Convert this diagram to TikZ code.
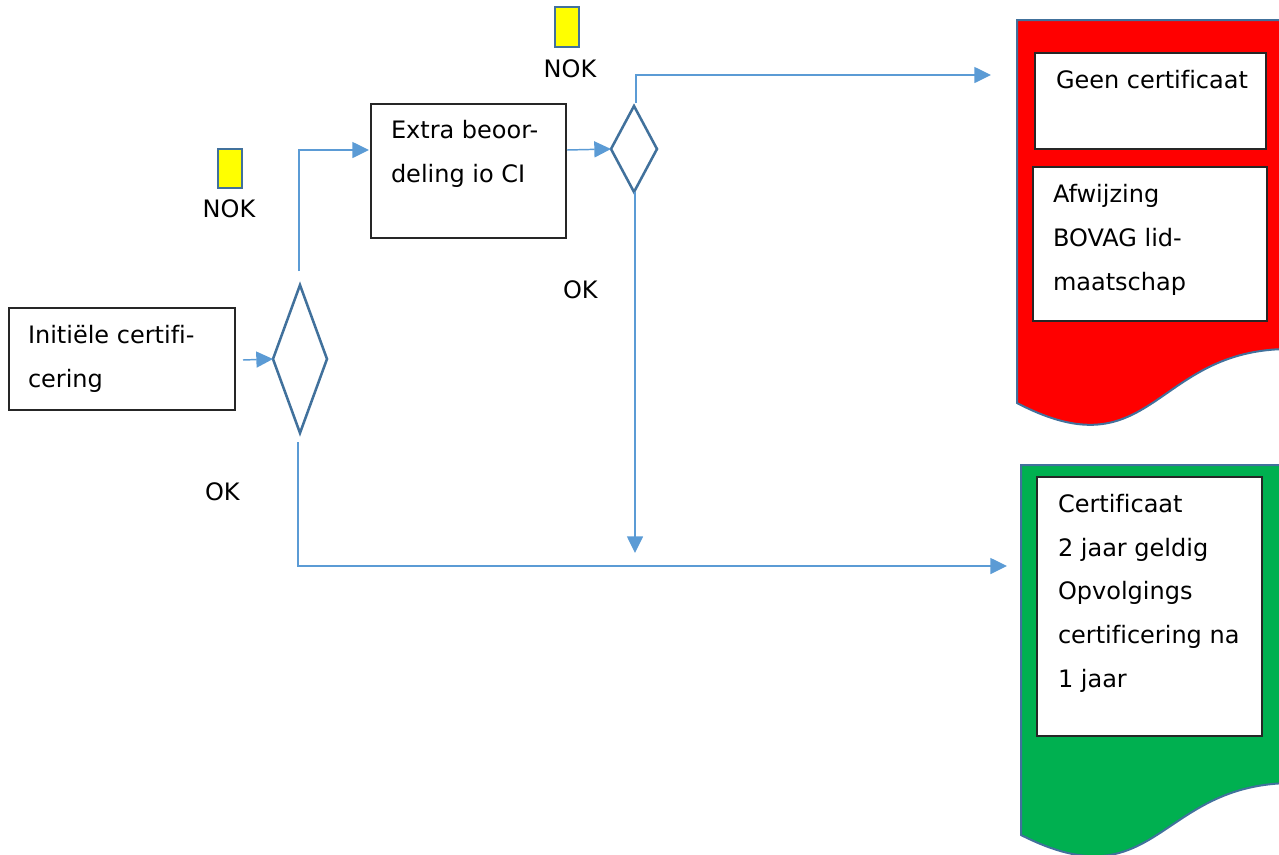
\documentclass[tikz,border=0pt]{standalone}
\usepackage{fontspec}
\setmainfont[Ligatures={NoCommon}]{DejaVu Sans}
\usetikzlibrary{arrows.meta,shapes.geometric,calc}
\definecolor{connc}{HTML}{5B9BD5}
\definecolor{shapeb}{HTML}{41719C}
\definecolor{docred}{HTML}{FF0000}
\definecolor{docgreen}{HTML}{00B050}
\definecolor{flagy}{HTML}{FFFF00}
\begin{document}
\begin{tikzpicture}[x=0.75pt,y=-0.75pt,
  box/.style={draw=black!85, line width=1pt, fill=white, rectangle, inner sep=0pt, outer sep=0pt},
  dec/.style={draw=shapeb, line width=1.9pt, diamond, inner sep=0pt, outer sep=0pt, fill=white},
  flag/.style={draw=shapeb, line width=1.5pt, fill=flagy, rectangle, inner sep=0pt, outer sep=0pt},
  conn/.style={draw=connc, line width=1.1pt},
  arr/.style={conn, -{Triangle[length=12.5pt,width=12pt]}},
  txt/.style={inner sep=0pt, outer sep=0pt, font=\fontsize{18}{33}\selectfont},
  doc/.style={draw=shapeb, line width=1.5pt}]
\useasboundingbox (0,0) rectangle (1279,854);
\clip (0,0) rectangle (1279,854);

% documents
\path[doc, fill=docred] (1017,20) -- (1289,20) -- (1289,349)
  .. controls (1153,349) and (1153,474) .. (1017,403) -- cycle;
\path[doc, fill=docgreen] (1021,465) -- (1293,465) -- (1293,783)
  .. controls (1157,783) and (1157,904) .. (1021,835) -- cycle;

% boxes
\node[box, minimum width=169.5pt, minimum height=76.5pt] (init) at (122,359) {};
\node[box, minimum width=146.25pt, minimum height=100.5pt] (extra) at (468.5,171) {};
\node[box, minimum width=173.25pt, minimum height=72pt] (geen) at (1150.5,101) {};
\node[box, minimum width=175.5pt, minimum height=115.5pt] (afw) at (1150,244) {};
\node[box, minimum width=168.75pt, minimum height=194.25pt] (cert) at (1149.5,606.5) {};

% flags
\node[flag, minimum width=18pt, minimum height=29.25pt] (flag1) at (230,168.5) {};
\node[flag, minimum width=18pt, minimum height=30pt] (flag2) at (567,27) {};

% decisions
\node[dec, minimum width=40.5pt, minimum height=111pt] (d1) at (300,359) {};
\node[dec, minimum width=34.5pt, minimum height=64.5pt] (d2) at (634,149) {};

% texts
\node[txt, anchor=base west] (i1) at (28,343) {Initiële certifi-};
\node[txt, anchor=base west] (i2) at (28,387) {cering};
\node[txt, anchor=base west] (e1) at (391,138) {Extra beoor-};
\node[txt, anchor=base west] (e2) at (391,182) {deling io CI};
\node[txt, anchor=base] (nok1) at (229,217) {NOK};
\node[txt, anchor=base] (nok2) at (570,77) {NOK};
\node[txt, anchor=base west] (ok1) at (205,500) {OK};
\node[txt, anchor=base west] (ok2) at (563,298) {OK};
\node[txt, anchor=base west] (g1) at (1056,88) {Geen certificaat};
\node[txt, anchor=base west] (a1) at (1053,202) {Afwijzing};
\node[txt, anchor=base west] (a2) at (1053,246) {BOVAG lid-};
\node[txt, anchor=base west] (a3) at (1053,290) {maatschap};
\node[txt, anchor=base west] (c1) at (1058,512) {Certificaat};
\node[txt, anchor=base west] (c2) at (1058,556) {2 jaar geldig};
\node[txt, anchor=base west] (c3) at (1058,599) {Opvolgings};
\node[txt, anchor=base west] (c4) at (1058,643) {certificering na};
\node[txt, anchor=base west] (c5) at (1058,687) {1 jaar};

% connector end coordinates
\coordinate (redin) at (991,75);
\coordinate (okend) at (635,553);
\coordinate (greenin) at (1007,566);

% connectors
\draw[arr] ($(init.east)+(8,1)$) -- (d1.west);
\draw[arr] ($(d1.north)+(-1,-14)$) |- ($(extra.west)+(-2,-21)$);
\draw[arr] ($(extra.east)+(1,-21)$) -- (d2.west);
\draw[arr] ($(d2.north)+(2,-3)$) |- (redin);
\draw[arr] ($(d2.south)+(1,0)$) -- (okend);
\draw[arr] ($(d1.south)+(-2,9)$) |- (greenin);
\end{tikzpicture}
\end{document}
